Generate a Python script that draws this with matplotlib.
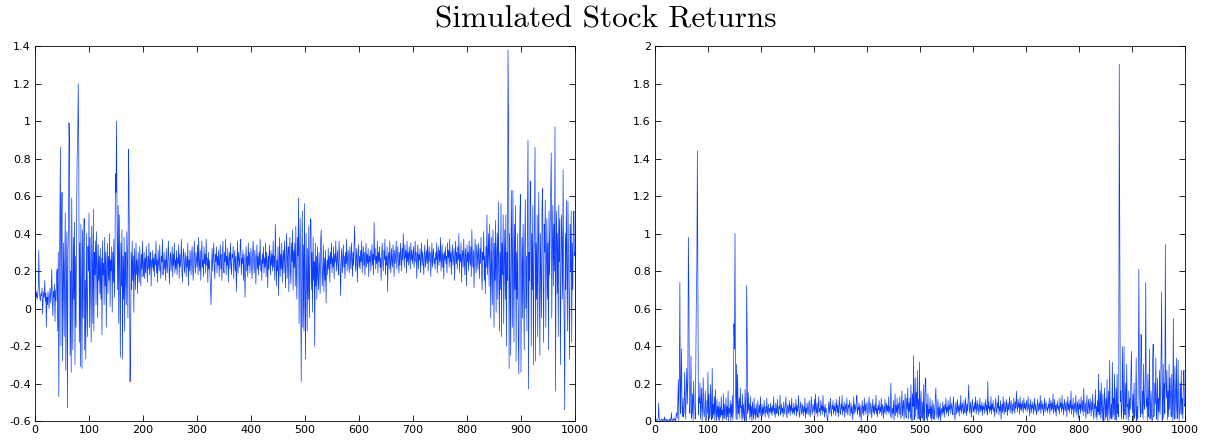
import numpy as np
import matplotlib
matplotlib.use("Agg")
import matplotlib.pyplot as plt
from matplotlib.ticker import FormatStrFormatter, MultipleLocator

# daily returns, days 1..1000
returns = np.array([
    0.08, 0.06, 0.09, 0.05, 0.07, 0.12, 0.31, 0.10, 0.06, 0.04, 0.08, 0.07, 0.11, -0.03, 0.05, 0.09, 0.06, 0.15, 0.04, 0.08,
    -0.10, 0.06, 0.02, 0.09, 0.05, 0.00, 0.07, 0.11, 0.03, 0.08, 0.21, 0.05, -0.04, 0.09, 0.06, 0.13, -0.07, 0.10, 0.04, 0.18,
    0.21, -0.12, 0.30, -0.47, 0.05, 0.48, 0.86, -0.20, 0.40, 0.62, -0.28, 0.15, 0.35, -0.15, 0.22, 0.51, -0.33, 0.10, 0.41, -0.53,
    0.30, 0.45, 0.99, 0.84, -0.25, 0.20, -0.34, 0.59, 0.12, -0.22, 0.38, 0.05, 0.46, -0.30, 0.28, -0.10, 0.52, 0.80, 0.90, 1.20,
    0.86, -0.18, 0.35, -0.31, 0.45, 0.10, -0.32, 0.42, -0.05, 0.30, 0.48, -0.22, 0.15, -0.27, 0.40, 0.05, -0.15, 0.33, 0.20, 0.51,
    -0.10, 0.38, 0.12, -0.18, 0.44, 0.25, -0.08, 0.53, -0.12, 0.30, 0.18, 0.36, 0.02, 0.41, 0.22, -0.05, 0.34, 0.15, 0.28, 0.08,
    0.32, 0.05, 0.27, -0.14, 0.36, 0.18, 0.24, 0.02, 0.38, 0.12, 0.30, -0.10, 0.22, 0.35, 0.08, 0.28, 0.15, 0.40, 0.01, 0.26,
    0.20, 0.33, -0.02, 0.30, 0.14, 0.37, 0.06, 0.25, 0.72, 0.62, 1.00, 0.40, 0.10, 0.55, -0.08, 0.50, 0.20, -0.26, 0.35, 0.12,
    0.42, -0.27, 0.28, 0.05, 0.38, -0.12, 0.30, 0.18, 0.02, 0.41, 0.25, -0.05, 0.85, 0.66, 0.20, -0.39, -0.24, 0.30, 0.10, 0.36,
    0.15, 0.28, -0.02, 0.32, 0.22, 0.10, 0.35, 0.18, 0.26, 0.08, 0.30, 0.20, 0.14, 0.33, 0.24, 0.12, 0.29, 0.21, 0.36, 0.17,
    0.22, 0.30, 0.16, 0.27, 0.19, 0.33, 0.24, 0.14, 0.28, 0.21, 0.35, 0.18, 0.25, 0.30, 0.12, 0.26, 0.22, 0.31, 0.20, 0.27,
    0.17, 0.29, 0.23, 0.36, 0.19, 0.26, 0.14, 0.31, 0.24, 0.20, 0.34, 0.22, 0.16, 0.28, 0.25, 0.37, 0.18, 0.23, 0.30, 0.21,
    0.26, 0.15, 0.32, 0.24, 0.19, 0.28, 0.36, 0.22, 0.13, 0.27, 0.30, 0.20, 0.25, 0.33, 0.17, 0.29, 0.23, 0.35, 0.19, 0.26,
    0.21, 0.31, 0.18, 0.27, 0.24, 0.34, 0.16, 0.29, 0.22, 0.26, 0.37, 0.20, 0.14, 0.28, 0.32, 0.23, 0.19, 0.30, 0.25, 0.17,
    0.28, 0.22, 0.35, 0.12, 0.26, 0.20, 0.31, 0.24, 0.18, 0.29, 0.33, 0.21, 0.15, 0.27, 0.36, 0.23, 0.19, 0.30, 0.26, 0.22,
    0.34, 0.18, 0.38, 0.25, 0.20, 0.31, 0.15, 0.28, 0.36, 0.22, 0.26, 0.17, 0.33, 0.24, 0.29, 0.19, 0.37, 0.23, 0.27, 0.14,
    0.30, 0.21, 0.26, 0.18, 0.11, 0.02, 0.24, 0.32, 0.20, 0.27, 0.35, 0.22, 0.16, 0.29, 0.25, 0.33, 0.19, 0.28, 0.23, 0.31,
    0.17, 0.26, 0.34, 0.21, 0.29, 0.15, 0.27, 0.36, 0.22, 0.19, 0.30, 0.25, 0.37, 0.18, 0.28, 0.23, 0.32, 0.14, 0.26, 0.30,
    0.21, 0.35, 0.24, 0.18, 0.29, 0.27, 0.33, 0.16, 0.25, 0.31, 0.20, 0.28, 0.09, 0.23, 0.36, 0.19, 0.30, 0.26, 0.22, 0.34,
    0.37, 0.18, 0.27, 0.24, 0.31, 0.15, 0.29, 0.21, 0.06, 0.26, 0.33, 0.20, 0.28, 0.17, 0.35, 0.23, 0.30, 0.19, 0.26, 0.32,
    0.22, 0.16, 0.29, 0.36, 0.24, 0.19, 0.31, 0.27, 0.13, 0.25, 0.34, 0.21, 0.28, 0.18, 0.30, 0.23, 0.37, 0.20, 0.26, 0.15,
    0.29, 0.24, 0.33, 0.19, 0.27, 0.22, 0.35, 0.17, 0.30, 0.25, 0.11, 0.28, 0.21, 0.34, 0.26, 0.18, 0.31, 0.23, 0.29, 0.20,
    0.36, 0.22, 0.28, 0.15, 0.45, 0.30, 0.12, 0.26, 0.20, 0.33, 0.07, 0.24, 0.38, 0.17, 0.29, 0.21, 0.35, 0.14, 0.27, 0.31,
    0.19, 0.36, 0.24, 0.11, 0.30, 0.40, 0.16, 0.28, 0.33, 0.09, 0.27, 0.38, 0.20, 0.13, 0.35, 0.25, 0.42, 0.10, 0.31, 0.22,
    0.35, 0.12, 0.44, 0.20, 0.05, 0.38, 0.28, 0.59, -0.08, 0.30, 0.48, 0.15, -0.39, 0.25, 0.52, -0.10, 0.34, -0.12, 0.56, 0.08,
    -0.27, 0.40, 0.18, -0.12, 0.32, 0.05, 0.44, -0.05, 0.22, 0.48, 0.47, 0.10, 0.30, -0.02, 0.38, 0.15, 0.25, -0.20, 0.35, 0.12,
    0.28, 0.05, 0.33, 0.18, 0.10, 0.30, 0.22, 0.08, 0.36, 0.42, 0.25, 0.12, 0.20, 0.34, 0.09, 0.27, 0.15, 0.31, 0.03, 0.22,
    0.26, 0.18, 0.32, 0.21, 0.28, 0.14, 0.30, 0.24, 0.35, 0.19, 0.27, 0.22, 0.33, 0.16, 0.29, 0.25, 0.36, 0.20, 0.26, 0.31,
    0.23, 0.18, 0.36, 0.29, 0.21, 0.07, 0.27, 0.32, 0.19, 0.25, 0.34, 0.22, 0.28, 0.16, 0.30, 0.24, 0.37, 0.20, 0.27, 0.31,
    0.24, 0.19, 0.33, 0.26, 0.21, 0.35, 0.28, 0.17, 0.30, 0.23, 0.36, 0.44, 0.25, 0.20, 0.32, 0.27, 0.14, 0.29, 0.34, 0.22,
    0.28, 0.21, 0.31, 0.25, 0.36, 0.19, 0.27, 0.33, 0.23, 0.30, 0.18, 0.26, 0.35, 0.22, 0.29, 0.24, 0.32, 0.17, 0.28, 0.25,
    0.31, 0.20, 0.27, 0.34, 0.23, 0.29, 0.18, 0.46, 0.26, 0.32, 0.21, 0.28, 0.24, 0.36, 0.19, 0.30, 0.25, 0.33, 0.22, 0.27,
    0.15, 0.29, 0.35, 0.24, 0.20, 0.31, 0.26, 0.37, 0.18, 0.28, 0.23, 0.33, 0.09, 0.27, 0.30, 0.21, 0.36, 0.25, 0.19, 0.32,
    0.26, 0.22, 0.34, 0.28, 0.17, 0.31, 0.24, 0.29, 0.36, 0.21, 0.27, 0.33, 0.25, 0.19, 0.30, 0.23, 0.35, 0.28, 0.20, 0.32,
    0.26, 0.40, 0.29, 0.22, 0.34, 0.27, 0.31, 0.19, 0.36, 0.25, 0.30, 0.23, 0.33, 0.28, 0.21, 0.35, 0.26, 0.31, 0.24, 0.29,
    0.33, 0.22, 0.27, 0.36, 0.25, 0.30, 0.16, 0.28, 0.34, 0.21, 0.29, 0.26, 0.32, 0.19, 0.27, 0.35, 0.23, 0.30, 0.25, 0.18,
    0.29, 0.34, 0.22, 0.27, 0.31, 0.24, 0.37, 0.20, 0.28, 0.33, 0.25, 0.30, 0.17, 0.26, 0.35, 0.22, 0.29, 0.32, 0.24, 0.27,
    0.21, 0.30, 0.26, 0.35, 0.19, 0.28, 0.33, 0.23, 0.31, 0.25, 0.38, 0.20, 0.27, 0.34, 0.22, 0.29, 0.16, 0.30, 0.26, 0.33,
    0.24, 0.28, 0.19, 0.35, 0.27, 0.31, 0.22, 0.37, 0.25, 0.30, 0.18, 0.29, 0.34, 0.23, 0.27, 0.32, 0.15, 0.28, 0.36, 0.24,
    0.30, 0.21, 0.33, 0.26, 0.40, 0.19, 0.29, 0.25, 0.35, 0.14, 0.27, 0.31, 0.22, 0.37, 0.26, 0.18, 0.32, 0.28, 0.12, 0.34,
    0.25, 0.30, 0.20, 0.36, 0.27, 0.23, 0.33, 0.17, 0.42, 0.28, 0.22, 0.31, 0.11, 0.26, 0.37, 0.24, 0.19, 0.34, 0.29, 0.21,
    0.35, 0.27, 0.16, 0.32, 0.24, 0.38, 0.20, 0.10, 0.30, 0.26, 0.41, 0.15, 0.28, 0.08, 0.33, 0.22, 0.50, 0.18, 0.30, 0.40,
    0.12, 0.45, 0.25, -0.05, 0.38, 0.20, 0.02, 0.42, 0.30, -0.10, 0.35, 0.15, 0.47, -0.02, 0.28, 0.40, 0.05, 0.57, 0.22, -0.12,
    0.30, 0.10, 0.56, -0.15, 0.35, 0.18, 0.50, -0.08, 0.25, 0.42, 0.05, 0.50, -0.20, 0.30, 0.15, 1.38, 1.00, -0.32, 0.40, 0.10,
    -0.25, 0.63, 0.35, -0.10, 0.63, 0.22, -0.18, 0.45, 0.10, 0.55, -0.28, 0.30, 0.05, 0.40, -0.15, -0.35, 0.25, 0.50, 0.61, -0.34,
    0.20, 0.38, -0.05, 0.45, 0.12, -0.22, 0.35, 0.58, 0.00, 0.28, -0.12, 0.50, 0.90, -0.43, 0.30, 0.15, 0.68, 0.67, -0.20, 0.40,
    0.10, 0.55, -0.30, 0.25, 0.45, 0.86, -0.28, 0.35, 0.05, 0.50, -0.15, 0.30, 0.62, 0.10, -0.25, 0.40, 0.20, -0.05, 0.55, 0.64,
    0.15, -0.18, 0.45, 0.30, 0.58, -0.10, 0.25, 0.48, 0.05, 0.35, -0.22, 0.52, 0.18, 0.40, 0.60, 0.83, -0.05, 0.30, 0.55, 0.12,
    0.45, 0.20, 0.97, -0.44, 0.35, 0.52, 0.08, 0.40, -0.15, 0.55, 0.25, 0.48, -0.30, 0.15, 0.50, 0.35, 0.05, 0.74, 0.20, -0.10,
    -0.54, 0.40, 0.10, 0.58, 0.25, -0.12, 0.57, 0.30, 0.05, -0.27, 0.45, 0.20, 0.52, -0.18, 0.35, 0.10, 0.48, 0.52, 0.28, 0.30,
])
days = np.arange(1, len(returns) + 1)
sq_returns = returns ** 2

fig = plt.figure(figsize=(12.12, 4.4), dpi=100)
fig.text(0.5, 0.955, "Simulated Stock Returns", ha="center", va="center",
         fontsize=22.5, family="cmr10")

ax1 = fig.add_axes([0.0289, 0.0432, 0.4455, 0.852])
ax2 = fig.add_axes([0.5404, 0.0432, 0.4373, 0.852])

ax1.plot(days, returns, color="#0a3cff", lw=0.5)
ax1.set_ylim(-0.6, 1.4)
ax1.yaxis.set_major_locator(MultipleLocator(0.2))

ax2.plot(days, sq_returns, color="#0a3cff", lw=0.5)
ax2.set_ylim(0, 2)
ax2.yaxis.set_major_locator(MultipleLocator(0.2))

for ax in (ax1, ax2):
    ax.set_xlim(0, 1000)
    ax.xaxis.set_major_locator(MultipleLocator(100))
    ax.yaxis.set_major_formatter(FormatStrFormatter("%g"))
    ax.tick_params(direction="in", top=True, right=True, length=4,
                   width=0.6, labelsize=8, pad=3)
    for s in ax.spines.values():
        s.set_linewidth(0.6)

plt.savefig("out.png", dpi=100)
